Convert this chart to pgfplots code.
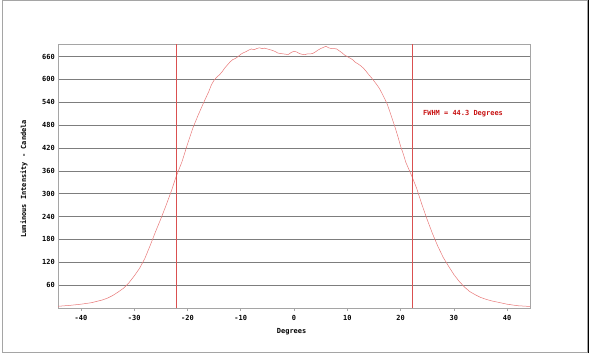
\documentclass[border=0pt]{standalone}
\usepackage{pgfplots}
\pgfplotsset{compat=1.18}
\usepackage{fontspec}
\setmainfont{DejaVu Sans Mono}
\definecolor{curve}{RGB}{232,120,120}
\definecolor{vline}{RGB}{218,80,80}
\definecolor{fwhm}{RGB}{200,20,20}
\definecolor{gridc}{RGB}{125,125,125}
\definecolor{axc}{RGB}{165,165,165}
\begin{document}
\begin{tikzpicture}[x=1bp,y=1bp]
\useasboundingbox (0,0) rectangle (590,353);
\draw[color=axc,line width=1bp] (2,1) rectangle (587,352);
\draw[black,line width=1.5bp] (588.5,0) -- (588.5,353);
\begin{axis}[
  at={(58bp,45bp)}, anchor=south west,
  width=472bp, height=264bp, scale only axis,
  xmin=-44.3, xmax=44.3, ymin=0, ymax=693,
  axis line style={color=axc, line width=0.8bp},
  xtick={-40,-30,...,40},
  ytick={60,120,...,660},
  xtick pos=bottom,
  ymajorgrids, major grid style={color=gridc, line width=0.7bp},
  tick align=outside,
  xtick style={color=axc, line width=0.6bp},
  major tick length=3bp,
  ytick style={draw=none},
  font=\fontsize{7}{8}\selectfont\bfseries,
  /pgf/number format/assume math mode=true,
  xticklabel style={yshift=-1bp},
  yticklabel style={xshift=1bp, inner sep=1bp},
  xlabel={Degrees},
  ylabel={Luminous Intensity - Candela},
  xlabel style={at={(axis description cs:0.495,-0.09)}, anchor=center},
  ylabel style={at={(axis description cs:-0.072,0.49)}, anchor=center},
  clip=true,
]
\addplot[color=curve, line width=0.5bp] coordinates {
(-44.3,4.5) (-42,7) (-40,10) (-38,14) (-36,21) (-35,26) (-34,33) (-33,42)
(-32,52) (-31,66) (-30,84) (-29,104) (-28,130) (-27,164) (-26,200) (-25,234)
(-24,270) (-23,308) (-22.2,342) (-21,385) (-20,430) (-19,472) (-18,506)
(-17,538) (-16,568) (-15.5,586) (-15,598) (-14.5,606) (-14,612) (-13.5,620)
(-13,630) (-12.5,638) (-12,646) (-11.5,652) (-11,655) (-10.5,660) (-10,666)
(-9.5,670) (-9,673) (-8.5,677) (-8,680) (-7.5,678) (-7,681) (-6.5,683)
(-6,681) (-5.5,682) (-5,680) (-4.5,678) (-4,676) (-3.5,673) (-3,669)
(-2.5,668) (-2,667) (-1.5,666) (-1,666) (-0.5,671) (0,674) (0.5,672)
(1,668) (1.5,666) (2,665) (2.5,667) (3,667) (3.5,668) (4,672) (4.5,677)
(5,681) (5.5,684) (6,687) (6.5,683) (7,681) (7.5,681) (8,680) (8.5,675)
(9,670) (9.5,664) (10,660) (10.5,656) (11,652) (11.5,645) (12,641)
(12.5,636) (13,630) (13.5,622) (14,613) (14.5,605) (15,596) (15.5,587)
(16,577) (16.5,564) (17,550) (17.5,535) (18,515) (18.5,494) (19,473)
(19.5,450) (20,425) (20.5,405) (21,382) (22.15,345) (23,315) (24,272)
(25,232) (26,195) (27,162) (28,133) (29,110) (30,88) (31,70) (32,55)
(33,43) (34,35) (35,28) (36,23) (37,19) (38,16) (40,10) (42,6) (44.3,4)
};
\addplot[color=vline, line width=0.5bp] coordinates {(-22.15,0) (-22.15,693)};
\addplot[color=vline, line width=0.5bp] coordinates {(22.15,0) (22.15,693)};
\node[anchor=west, text=fwhm, inner sep=0pt, font=\fontsize{7}{8}\selectfont\bfseries] at (axis cs:24.2,510) {FWHM = 44.3 Degrees};
\end{axis}
\end{tikzpicture}
\end{document}
